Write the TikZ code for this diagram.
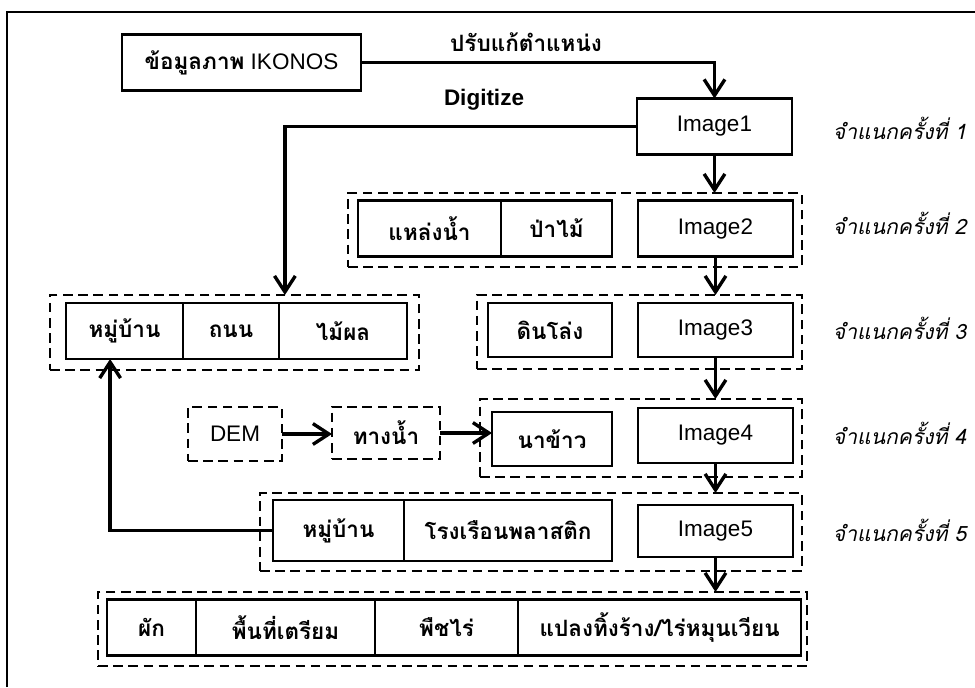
\documentclass[tikz,border=0pt]{standalone}
\usepackage{fontspec}
\setmainfont{Liberation Sans}
\newfontfamily\thai[Script=Thai, BoldFont={Loma Bold}, ItalicFont={Loma Oblique}, BoldItalicFont={Loma Bold Oblique}]{Loma}
\usetikzlibrary{arrows.meta, positioning}
\tikzset{
    base/.style={draw, rectangle, line width=1.7pt, outer sep=0pt, inner sep=0pt, minimum height=1.4cm, align=center, font=\thai\bfseries\fontsize{16}{19}\selectfont},
    imgbox/.style={base, minimum width=3.875cm, font=\fontsize{16}{19}\selectfont},
    group/.style={draw, rectangle, line width=1.8pt, dash pattern=on 0.24cm off 0.14cm, outer sep=0pt, inner sep=0pt},
    arrow/.style={line width=2.4pt, -{Straight Barb[length=0.4cm, width=0.52cm]}},
    stage/.style={anchor=west, font=\thai\itshape\fontsize{15}{18}\selectfont}
}

\begin{document}
\begin{tikzpicture}[x=0.025cm, y=-0.025cm]
\useasboundingbox (0,0) rectangle (975,687);
\draw[line width=1.4pt] (7,687) -- (7,12) -- (975,12);

\node[base, minimum width=5.975cm, font=\fontsize{16}{19}\selectfont] (ikonos) at (241.5,62.5) {{\thai\bfseries ข้อมูลภาพ} IKONOS};
\node[imgbox] (img1) at (714.5,126.5) {Image1};

\node[group, minimum width=11.35cm, minimum height=1.85cm] (g2) at (575,230) {};
\node[base, minimum width=3.575cm, anchor=west] (water) at (358,228.5) {แหล่งน้ำ};
\node[base, minimum width=2.775cm, right=0pt of water] (forest) {ป่าไม้};
\node[imgbox] (img2) at (715.5,228.5) {Image2};

\node[group, minimum width=9.225cm, minimum height=1.875cm] (g1) at (234.5,332.5) {};
\node[base, minimum width=2.925cm, anchor=west] (village1) at (66,331) {หมู่บ้าน};
\node[base, minimum width=2.4cm, right=0pt of village1] (road) {ถนน};
\node[base, minimum width=3.2cm, right=0pt of road] (orchard) {ไม้ผล};

\node[group, minimum width=8.125cm, minimum height=1.85cm] (g3) at (639.5,332) {};
\node[base, minimum width=3.1cm, minimum height=1.35cm, anchor=west] (bare) at (488,330) {ดินโล่ง};
\node[imgbox, minimum height=1.35cm] (img3) at (715.5,330) {Image3};

\node[group, minimum width=2.35cm, minimum height=1.35cm, font=\fontsize{16}{19}\selectfont] (dem) at (235,434) {DEM};
\node[group, minimum width=2.7cm, minimum height=1.3cm, font=\thai\bfseries\fontsize{16}{19}\selectfont] (stream) at (386,433) {ทางน้ำ};
\node[group, minimum width=8.05cm, minimum height=1.95cm] (g4) at (641,438) {};
\node[base, minimum width=3cm, minimum height=1.35cm, anchor=west] (paddy) at (492,439) {นาข้าว};
\node[imgbox, minimum height=1.375cm] (img4) at (715.5,435.5) {Image4};

\node[group, minimum width=13.55cm, minimum height=1.95cm] (g5) at (531,532) {};
\node[base, minimum width=3.275cm, minimum height=1.525cm, anchor=west] (village2) at (273,530.5) {หมู่บ้าน};
\node[base, minimum width=5.2cm, minimum height=1.525cm, right=0pt of village2] (greenhouse) {โรงเรือนพลาสติก};
\node[imgbox, minimum height=1.3cm] (img5) at (715.5,531) {Image5};

\node[group, minimum width=17.725cm, minimum height=1.85cm] (g6) at (452.5,629) {};
\node[base, minimum width=2.225cm, anchor=west] (veg) at (107,627.5) {ผัก};
\node[base, minimum width=4.475cm, right=0pt of veg] (prep) {พื้นที่เตรียม};
\node[base, minimum width=3.575cm, right=0pt of prep] (crop) {พืชไร่};
\node[base, minimum width=7.075cm, right=0pt of crop] (fallow) {แปลงทิ้งร้าง/ไร่หมุนเวียน};

\node[font=\thai\bfseries\fontsize{16}{19}\selectfont] (adjust) at (526,42) {ปรับแก้ตำแหน่ง};
\node[font=\bfseries\fontsize{16}{19}\selectfont] (digit) at (484,100) {Digitize};
\node[stage] (st1) at (828,128) {จำแนกครั้งที่ 1};
\node[stage] (st2) at (828,223) {จำแนกครั้งที่ 2};
\node[stage] (st3) at (828,328) {จำแนกครั้งที่ 3};
\node[stage] (st4) at (828,433) {จำแนกครั้งที่ 4};
\node[stage] (st5) at (828,530) {จำแนกครั้งที่ 5};

\draw[arrow] (ikonos.east) -| (img1.north);
\draw[arrow] (img1.west) -| ([xshift=1.26cm]g1.north);
\draw[arrow] (img1.south) -- (img1.south |- g2.north);
\draw[arrow] (img2.south) -- (img2.south |- g3.north);
\draw[arrow] (img3.south) -- (img3.south |- g4.north);
\draw[arrow] (img4.south) -- (img4.south |- g5.north);
\draw[arrow] (img5.south) -- (img5.south |- g6.north);
\draw[arrow] (dem.east) -- (dem.east -| stream.west);
\draw[arrow] (stream.east) -- (stream.east -| paddy.west);
\draw[arrow] (village2.west) -| ([xshift=-0.36cm]village1.south);
\end{tikzpicture}
\end{document}
